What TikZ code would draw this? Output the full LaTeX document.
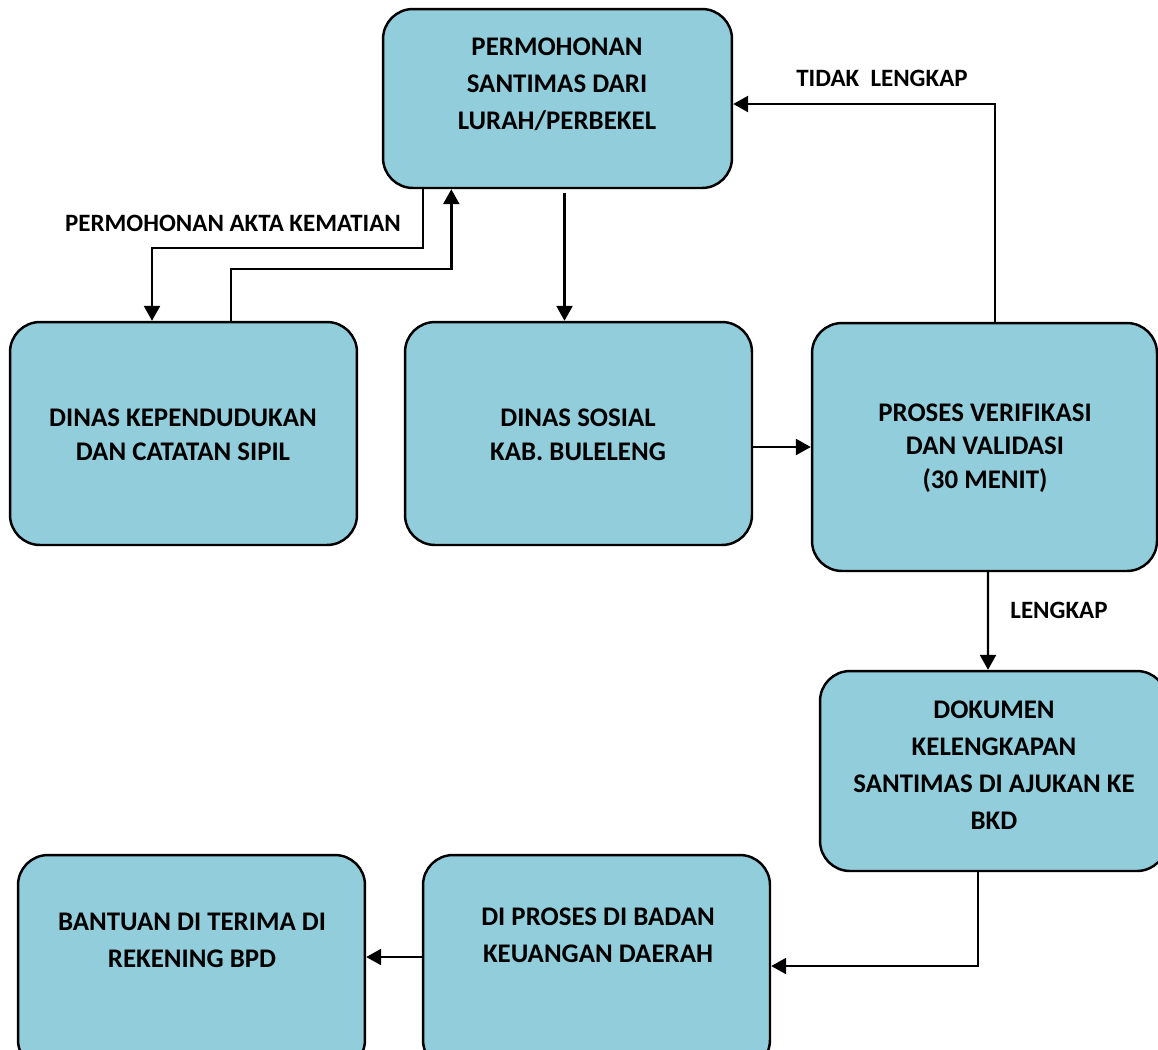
\documentclass[tikz,border=0pt]{standalone}
\usepackage{fontspec}
\setmainfont{Carlito}
\usepackage{tikz}
\usetikzlibrary{arrows.meta,calc}
\definecolor{boxblue}{RGB}{146,205,220}
\tikzstyle{Box}=[rectangle, rounded corners=0.6cm, draw=black, line width=1.4pt, fill=boxblue, minimum width=6.94cm, inner sep=0pt]
\tikzstyle{Txt}=[align=center, inner sep=0pt, font=\fontsize{15.3pt}{21pt}\selectfont\bfseries]
\tikzstyle{Lbl}=[inner sep=0pt, font=\fontsize{14.2pt}{17pt}\selectfont\bfseries]
\tikzstyle{Arr}=[line width=1.4pt, -{Triangle[length=0.3cm, width=0.32cm]}]

\begin{document}
\begin{tikzpicture}[x=0.02cm, y=-0.02cm]
    \useasboundingbox (0,0) rectangle (1158,1049);
    \path
    (557.5,98.5) node[Box, minimum width=6.98cm, minimum height=3.58cm] (perm) {}
    (183.5,433.5) node[Box, minimum height=4.46cm] (kep) {}
    (578.5,433.5) node[Box, minimum height=4.46cm] (sos) {}
    (984.5,447) node[Box, minimum width=6.9cm, minimum height=4.96cm] (ver) {}
    (993.5,771) node[Box, minimum height=4cm] (dok) {}
    (191.5,962.5) node[Box, minimum height=4.3cm] (ban) {}
    (596.5,962.5) node[Box, minimum height=4.3cm] (pro) {};

    \path
    (557,84) node[Txt] (perm-t) {PERMOHONAN\\SANTIMAS DARI\\LURAH/PERBEKEL}
    (183,435) node[Txt, font=\fontsize{15.3pt}{19.3pt}\selectfont\bfseries] (kep-t) {DINAS KEPENDUDUKAN\\DAN CATATAN SIPIL}
    (578,435) node[Txt, font=\fontsize{15.3pt}{19.3pt}\selectfont\bfseries] (sos-t) {DINAS SOSIAL\\KAB. BULELENG}
    (985,448) node[Txt, font=\fontsize{15.3pt}{19pt}\selectfont\bfseries] (ver-t) {PROSES VERIFIKASI\\DAN VALIDASI\\(30 MENIT)}
    (994,765) node[Txt] (dok-t) {DOKUMEN\\KELENGKAPAN\\SANTIMAS DI AJUKAN KE\\BKD}
    (192,940) node[Txt] (ban-t) {BANTUAN DI TERIMA DI\\REKENING BPD}
    (598,935) node[Txt] (pro-t) {DI PROSES DI BADAN\\KEUANGAN DAERAH};

    \path
    (233,223) node[Lbl] (akta) {PERMOHONAN AKTA KEMATIAN}
    (882,78) node[Lbl] (tidak) {TIDAK\ \ LENGKAP}
    (1059,610) node[Lbl] (lengkap) {LENGKAP};

    \draw[Arr] ($(perm.south west)+(41,0)$) -- ++(0,59) -| ($(kep.north)+(-31.5,0)$);
    \draw[Arr] ($(kep.north)+(47.5,0)$) -- ++(0,-52) -| ($(perm.south west)+(69.5,0)$);
    \draw[Arr] ($(perm.south)+(7,4)$) -- ($(sos.north)+(-14,0)$);
    \draw[Arr] (sos.east |- ver.west) -- (ver.west);
    \draw[Arr] ($(ver.north)+(10.5,0)$) |- ($(perm.east)+(0,5.5)$);
    \draw[Arr] ($(ver.south)+(3.5,0)$) -- ($(dok.north)+(-5.5,0)$);
    \draw[Arr] ($(dok.south)+(-15.5,0)$) |- ($(pro.east)+(0,3.5)$);
    \draw[Arr] ($(pro.west)+(0,-5.5)$) -- ($(ban.east)+(0,-5.5)$);
\end{tikzpicture}
\end{document}
